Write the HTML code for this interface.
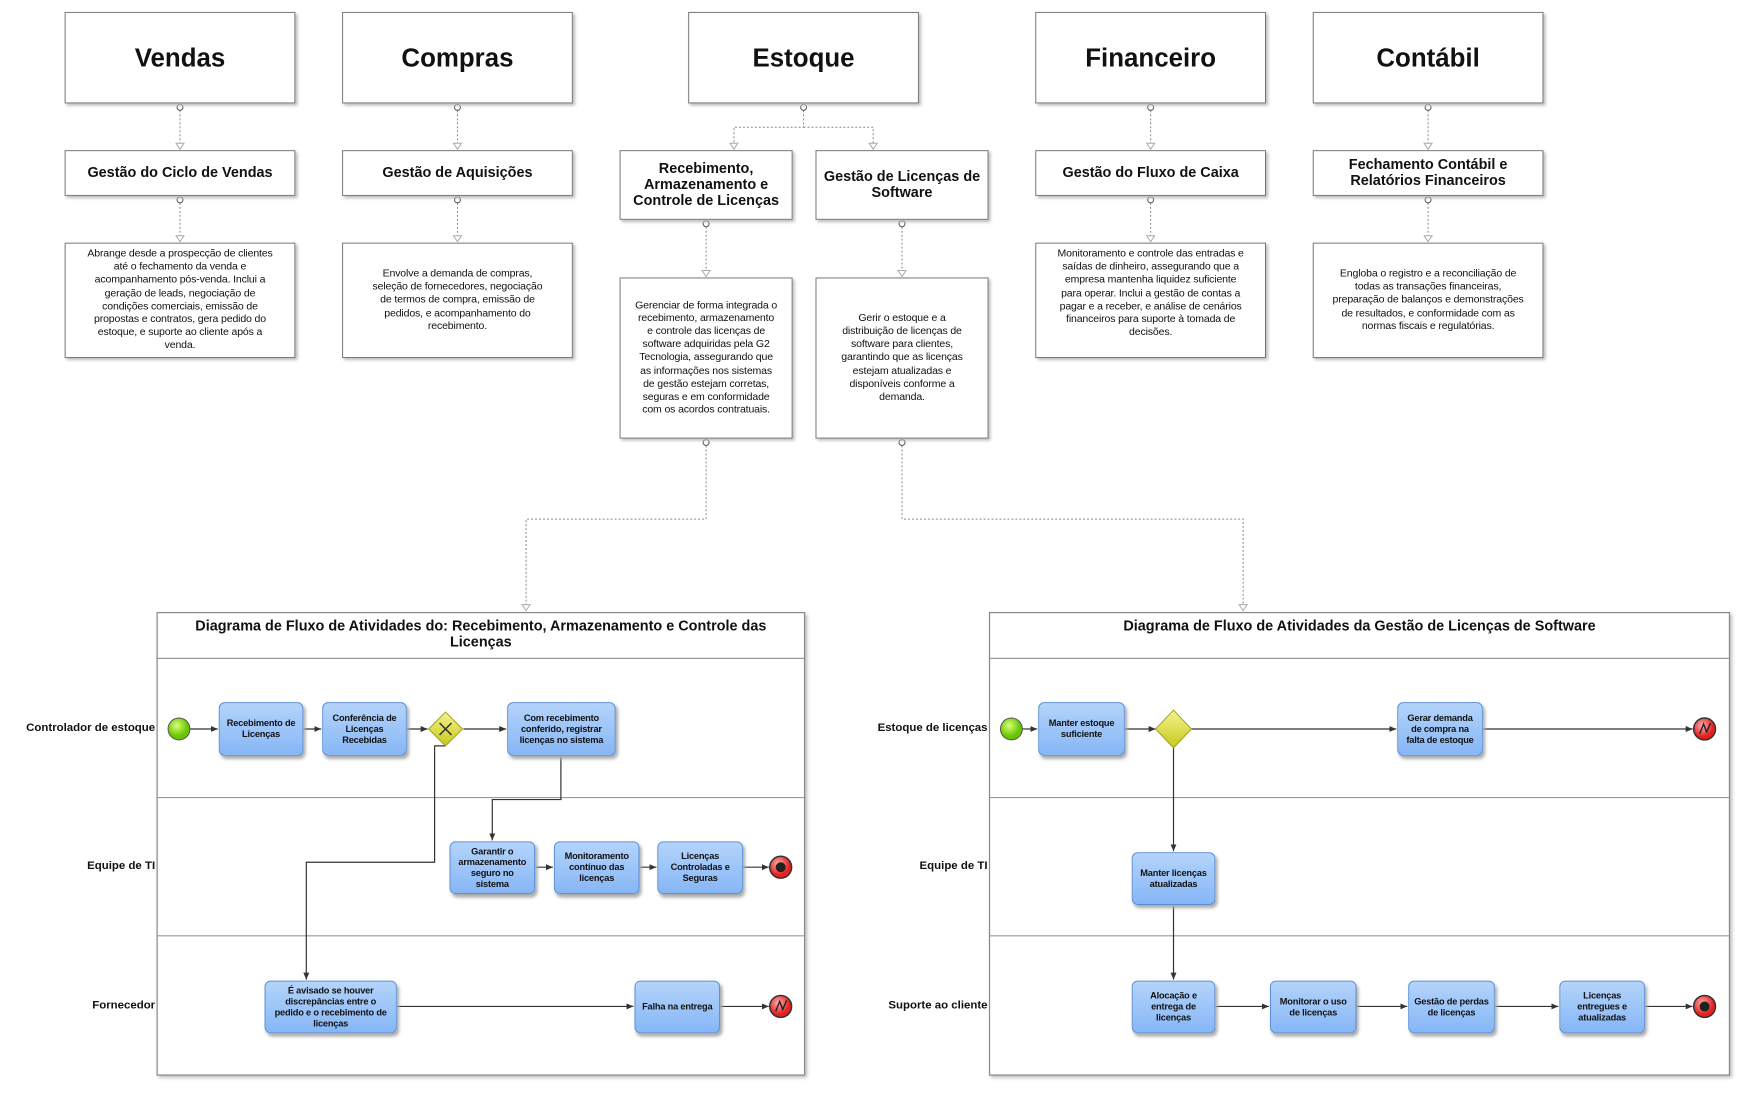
<!DOCTYPE html>
<html><head><meta charset="utf-8"><style>
body{margin:0;width:1748px;height:1096px;background:#fff;position:relative;overflow:hidden;font-family:"Liberation Sans",sans-serif;color:#111}
#w{position:absolute;left:0;top:0;width:1748px;height:1096px;transform:scale(0.9945);transform-origin:0 0}
.b{position:absolute;box-sizing:border-box;border:1px solid #777;background:#fff;box-shadow:2px 2px 3px #bbb;display:flex;align-items:center;justify-content:center;text-align:center}
.t1{font-weight:bold;font-size:26px}
.t2{font-weight:bold;font-size:14.5px;line-height:16px}
.t3{font-size:10.6px;line-height:13.2px;white-space:nowrap;letter-spacing:-0.15px}
.k{position:absolute;box-sizing:border-box;border:1px solid #5b8fd6;border-radius:6px;background:linear-gradient(#b4d4fb,#86b6f6);box-shadow:2px 3px 3px #aaa;display:flex;align-items:center;justify-content:center;text-align:center;font-weight:bold;font-size:9.3px;line-height:11px;white-space:nowrap;letter-spacing:-0.2px}
.l{position:absolute;font-weight:bold;font-size:11.5px;text-align:right;width:150px;white-space:nowrap}
.pt{position:absolute;font-weight:bold;font-size:14.5px;text-align:center;line-height:16px}
svg{position:absolute;left:0;top:0}
</style></head><body><div id="w">
<svg width="1748" height="1096">
<defs>
<marker id="fa" markerWidth="8" markerHeight="8" refX="7" refY="4" orient="auto" markerUnits="userSpaceOnUse"><path d="M0,1 L7,4 L0,7 Z" fill="#333"/></marker>
<radialGradient id="gs" cx="40%" cy="35%"><stop offset="0" stop-color="#d8ff7a"/><stop offset="1" stop-color="#66c400"/></radialGradient>
<radialGradient id="ge" cx="40%" cy="35%"><stop offset="0" stop-color="#ffb0b0"/><stop offset="1" stop-color="#e52020"/></radialGradient>
<linearGradient id="gg" x1="0" y1="0" x2="0" y2="1"><stop offset="0" stop-color="#f4f48a"/><stop offset="1" stop-color="#c8c81e"/></linearGradient>
</defs>
<g fill="none" stroke="#888" stroke-dasharray="2,2" stroke-width="1">
<path d="M181 111V150M460 111V150M1157 111V150M1436 111V150"/>
<path d="M181 204V243M460 204V243M1157 204V243M1436 204V243"/>
<path d="M808 111V128H738V150M808 128H878V150"/>
<path d="M710 228V278M907 228V278"/>
<path d="M710 448V522H529V614M907 448V522H1250V614"/>
</g>
<g fill="#fff" stroke="#555">
<circle cx="181" cy="108" r="3"/><circle cx="460" cy="108" r="3"/><circle cx="808" cy="108" r="3"/><circle cx="1157" cy="108" r="3"/><circle cx="1436" cy="108" r="3"/>
<circle cx="181" cy="201" r="3"/><circle cx="460" cy="201" r="3"/><circle cx="1157" cy="201" r="3"/><circle cx="1436" cy="201" r="3"/>
<circle cx="710" cy="225" r="3"/><circle cx="907" cy="225" r="3"/><circle cx="710" cy="445" r="3"/><circle cx="907" cy="445" r="3"/>
</g>
<g fill="#fff" stroke="#aaa">
<path d="M177 144h8l-4 6z M456 144h8l-4 6z M1153 144h8l-4 6z M1432 144h8l-4 6z M177 237h8l-4 6z M456 237h8l-4 6z M1153 237h8l-4 6z M1432 237h8l-4 6z M734 144h8l-4 6z M874 144h8l-4 6z M706 272h8l-4 6z M903 272h8l-4 6z M525 608h8l-4 6z M1246 608h8l-4 6z"/>
</g>
<g fill="#fff" stroke="#888" stroke-width="1.2" style="filter:drop-shadow(2px 2px 2px #bbb)">
<rect x="158" y="616" width="651" height="465"/>
<rect x="995" y="616" width="744" height="465"/>
</g>
<g stroke="#999" stroke-width="1.2">
<path d="M158 662H809M158 802H809M158 941H809M995 662H1739M995 802H1739M995 941H1739"/>
</g>
<g stroke="#333" stroke-width="1.2" fill="none" marker-end="url(#fa)">
<path d="M191 733H219"/><path d="M305 733H323"/><path d="M409 733H430"/><path d="M466 733H509"/>
<path d="M448 750H437V867H308V985"/>
<path d="M564 760V804H495V845"/>
<path d="M538 872H556"/><path d="M643 872H660"/><path d="M747 872H773"/>
<path d="M399 1012H637"/><path d="M724 1012H773"/>
<path d="M1028 733H1043"/><path d="M1131 733H1162"/><path d="M1198 733H1404"/><path d="M1491 733H1702"/>
<path d="M1180 751V856"/><path d="M1180 910V985"/>
<path d="M1222 1012H1276"/><path d="M1364 1012H1415"/><path d="M1503 1012H1567"/><path d="M1654 1012H1702"/>
</g>
<circle cx="180" cy="733" r="11" fill="url(#gs)" stroke="#555"/>
<circle cx="1017" cy="733" r="11" fill="url(#gs)" stroke="#555"/>
<g stroke="#333" stroke-width="1.5"><circle cx="785" cy="872" r="11" fill="url(#ge)"/><circle cx="785" cy="1012" r="11" fill="url(#ge)"/><circle cx="1714" cy="733" r="11" fill="url(#ge)"/><circle cx="1714" cy="1012" r="11" fill="url(#ge)"/></g>
<circle cx="785" cy="872" r="5" fill="#222"/><circle cx="1714" cy="1012" r="5" fill="#222"/>
<g stroke="#222" stroke-width="1.4" fill="none"><path d="M780 1017L784 1007L787 1015L791 1006"/><path d="M1709 738L1713 728L1716 736L1720 727"/></g>
<path d="M448 716L465 733L448 750L431 733Z" fill="url(#gg)" stroke="#a0a020"/>
<path d="M442 727L454 739M454 727L442 739" stroke="#333" stroke-width="1.5"/>
<path d="M1180 714L1198 733L1180 752L1162 733Z" fill="url(#gg)" stroke="#a0a020"/>
</svg>

<div class="b t1" style="left:65px;top:12px;width:232px;height:92px">Vendas</div>
<div class="b t1" style="left:344px;top:12px;width:232px;height:92px">Compras</div>
<div class="b t1" style="left:692px;top:12px;width:232px;height:92px">Estoque</div>
<div class="b t1" style="left:1041px;top:12px;width:232px;height:92px">Financeiro</div>
<div class="b t1" style="left:1320px;top:12px;width:232px;height:92px">Contábil</div>

<div class="b t2" style="left:65px;top:151px;width:232px;height:46px">Gestão do Ciclo de Vendas</div>
<div class="b t2" style="left:344px;top:151px;width:232px;height:46px">Gestão de Aquisições</div>
<div class="b t2" style="left:623px;top:151px;width:174px;height:70px">Recebimento,<br>Armazenamento e<br>Controle de Licenças</div>
<div class="b t2" style="left:820px;top:151px;width:174px;height:70px">Gestão de Licenças de<br>Software</div>
<div class="b t2" style="left:1041px;top:151px;width:232px;height:46px">Gestão do Fluxo de Caixa</div>
<div class="b t2" style="left:1320px;top:151px;width:232px;height:46px">Fechamento Contábil e<br>Relatórios Financeiros</div>

<div class="b t3" style="left:65px;top:244px;width:232px;height:116px;align-items:flex-start;padding-top:4px">Abrange desde a prospecção de clientes<br>até o fechamento da venda e<br>acompanhamento pós-venda. Inclui a<br>geração de leads, negociação de<br>condições comerciais, emissão de<br>propostas e contratos, gera pedido do<br>estoque, e suporte ao cliente após a<br>venda.</div>
<div class="b t3" style="left:344px;top:244px;width:232px;height:116px">Envolve a demanda de compras,<br>seleção de fornecedores, negociação<br>de termos de compra, emissão de<br>pedidos, e acompanhamento do<br>recebimento.</div>
<div class="b t3" style="left:623px;top:279px;width:174px;height:162px">Gerenciar de forma integrada o<br>recebimento, armazenamento<br>e controle das licenças de<br>software adquiridas pela G2<br>Tecnologia, assegurando que<br>as informações nos sistemas<br>de gestão estejam corretas,<br>seguras e em conformidade<br>com os acordos contratuais.</div>
<div class="b t3" style="left:820px;top:279px;width:174px;height:162px">Gerir o estoque e a<br>distribuição de licenças de<br>software para clientes,<br>garantindo que as licenças<br>estejam atualizadas e<br>disponíveis conforme a<br>demanda.</div>
<div class="b t3" style="left:1041px;top:244px;width:232px;height:116px;align-items:flex-start;padding-top:4px">Monitoramento e controle das entradas e<br>saídas de dinheiro, assegurando que a<br>empresa mantenha liquidez suficiente<br>para operar. Inclui a gestão de contas a<br>pagar e a receber, e análise de cenários<br>financeiros para suporte à tomada de<br>decisões.</div>
<div class="b t3" style="left:1320px;top:244px;width:232px;height:116px">Engloba o registro e a reconciliação de<br>todas as transações financeiras,<br>preparação de balanços e demonstrações<br>de resultados, e conformidade com as<br>normas fiscais e regulatórias.</div>

<div class="pt" style="left:158px;top:622px;width:651px">Diagrama de Fluxo de Atividades do: Recebimento, Armazenamento e Controle das<br>Licenças</div>
<div class="pt" style="left:995px;top:622px;width:744px">Diagrama de Fluxo de Atividades da Gestão de Licenças de Software</div>

<div class="l" style="left:6px;top:726px">Controlador de estoque</div>
<div class="l" style="left:6px;top:865px">Equipe de TI</div>
<div class="l" style="left:6px;top:1005px">Fornecedor</div>
<div class="l" style="left:843px;top:726px">Estoque de licenças</div>
<div class="l" style="left:843px;top:865px">Equipe de TI</div>
<div class="l" style="left:843px;top:1005px">Suporte ao cliente</div>

<div class="k" style="left:220px;top:706px;width:85px;height:54px">Recebimento de<br>Licenças</div>
<div class="k" style="left:324px;top:706px;width:85px;height:54px">Conferência de<br>Licenças<br>Recebidas</div>
<div class="k" style="left:510px;top:706px;width:109px;height:54px">Com recebimento<br>conferido, registrar<br>licenças no sistema</div>
<div class="k" style="left:452px;top:846px;width:86px;height:53px">Garantir o<br>armazenamento<br>seguro no<br>sistema</div>
<div class="k" style="left:557px;top:846px;width:86px;height:53px">Monitoramento<br>contínuo das<br>licenças</div>
<div class="k" style="left:661px;top:846px;width:86px;height:53px">Licenças<br>Controladas e<br>Seguras</div>
<div class="k" style="left:266px;top:986px;width:133px;height:53px">É avisado se houver<br>discrepâncias entre o<br>pedido e o recebimento de<br>licenças</div>
<div class="k" style="left:638px;top:986px;width:86px;height:53px">Falha na entrega</div>

<div class="k" style="left:1044px;top:706px;width:87px;height:54px">Manter estoque<br>suficiente</div>
<div class="k" style="left:1405px;top:706px;width:86px;height:54px">Gerar demanda<br>de compra na<br>falta de estoque</div>
<div class="k" style="left:1138px;top:857px;width:84px;height:53px">Manter licenças<br>atualizadas</div>
<div class="k" style="left:1138px;top:986px;width:84px;height:53px">Alocação e<br>entrega de<br>licenças</div>
<div class="k" style="left:1277px;top:986px;width:87px;height:53px">Monitorar o uso<br>de licenças</div>
<div class="k" style="left:1416px;top:986px;width:87px;height:53px">Gestão de perdas<br>de licenças</div>
<div class="k" style="left:1568px;top:986px;width:86px;height:53px">Licenças<br>entregues e<br>atualizadas</div>
</div></body></html>
